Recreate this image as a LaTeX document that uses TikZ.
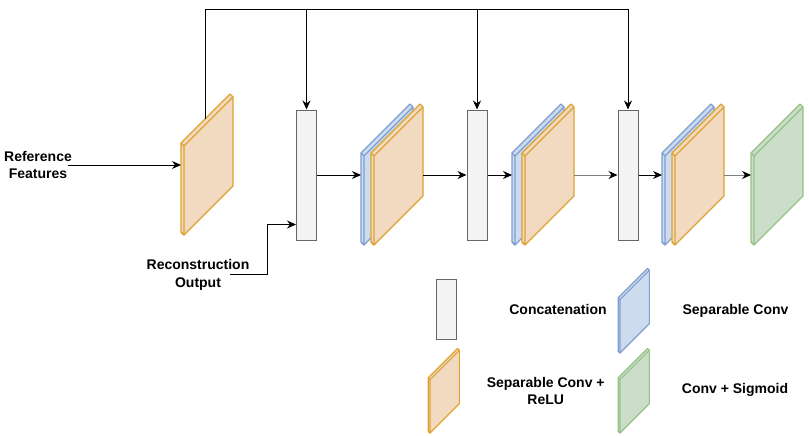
\documentclass[tikz,border=0pt]{standalone}
\usepackage{fontspec}
\setmainfont{Liberation Sans}
\usetikzlibrary{arrows.meta}
\definecolor{orangeline}{HTML}{DDA230}
\definecolor{orangefill}{HTML}{F2DAC1}
\definecolor{blueline}{HTML}{7E9ED0}
\definecolor{bluefill}{HTML}{CDDBEF}
\definecolor{greenline}{HTML}{96C285}
\definecolor{greenfill}{HTML}{CCDDCA}
\definecolor{catline}{HTML}{666666}
\definecolor{catfill}{HTML}{F4F4F4}
\tikzset{
  pics/slab/.style 2 args={code={
    \filldraw[draw=#1,fill=#2,line width=1.1pt,line join=round] (-3,-3) -- (-3,-92) -- (46,-141) -- (49,-138) -- (49,-49) -- (0,0) -- cycle;
    \draw[draw=#1,line width=1.1pt,line join=round] (-3,-3) -- (0,0) -- (0,-89) -- (49,-138) (-3,-92) -- (0,-89);
    \coordinate (-w) at (-3,-70);
    \coordinate (-e) at (49,-70);
    \coordinate (-top) at (21,-116);
  }},
  concat/.style={draw=catline,fill=catfill,line width=1pt,minimum width=20pt,minimum height=130pt,inner sep=0pt},
  lbl/.style={font=\bfseries\fontsize{14}{17.5}\selectfont,align=center,inner sep=0pt},
  >={Stealth[length=9pt,width=8pt]}
}
\begin{document}
\begin{tikzpicture}[x=1pt,y=-1pt,line width=0.9pt]
\useasboundingbox (0,0) rectangle (809,436);
% inputs
\node[lbl] (ref) at (38,165) {Reference\\Features};
\coordinate (refout) at (68,165);
\node[lbl] (rec) at (198,275) {Reconstruction\\Output};
\coordinate (recout) at (230,274);
% main row
\pic (o1) at (184,235) {slab={orangeline}{orangefill}};
\node[concat] (c1) at (306.5,175) {};
\pic (b1) at (364,245) {slab={blueline}{bluefill}};
\pic (o2) at (374,245) {slab={orangeline}{orangefill}};
\node[concat] (c2) at (477,175) {};
\pic (b2) at (515,245) {slab={blueline}{bluefill}};
\pic (o3) at (525,245) {slab={orangeline}{orangefill}};
\node[concat] (c3) at (628,175) {};
\pic (b3) at (665,245) {slab={blueline}{bluefill}};
\pic (o4) at (675,245) {slab={orangeline}{orangefill}};
\pic (g1) at (754,245) {slab={greenline}{greenfill}};
% connectors
\draw[->] (refout) -- (o1-w);
\draw[->] (recout) -- ++(37,0) |- ([yshift=16pt]c1.south west);
\draw[->] (c1.east) -- (b1-w);
\draw[->] (o2-e) -- (c2.west);
\draw[->] (c2.east) -- (b2-w);
\draw[gray,-{Stealth[length=9pt,width=8pt,color=black]}] (o3-e) -- (c3.west);
\draw[->] (c3.east) -- (b3-w);
\draw[gray,-{Stealth[length=9pt,width=8pt,color=black]}] (o4-e) -- (g1-w);
% skip connections
\coordinate (bus) at (205,9);
\draw (o1-top) -- (bus) -- (bus -| c3.north);
\foreach \c in {c1,c2,c3}
  \draw[->] (bus -| \c.north) -- (\c.north);
% legend
\node[concat,minimum height=60pt] (lcat) at (446.5,309.5) {};
\node[lbl] (tcat) at (558,309) {Concatenation};
\pic[scale=0.6] (lb) at (620,353) {slab={blueline}{bluefill}};
\node[lbl] (tsep) at (735.5,311) {Separable Conv};
\pic[scale=0.6] (lo) at (430,433) {slab={orangeline}{orangefill}};
\node[lbl] (trelu) at (545.7,391) {Separable Conv +\\ReLU};
\pic[scale=0.6] (lg) at (620,433) {slab={greenline}{greenfill}};
\node[lbl] (tsig) at (735,390) {Conv + Sigmoid};
\end{tikzpicture}
\end{document}
